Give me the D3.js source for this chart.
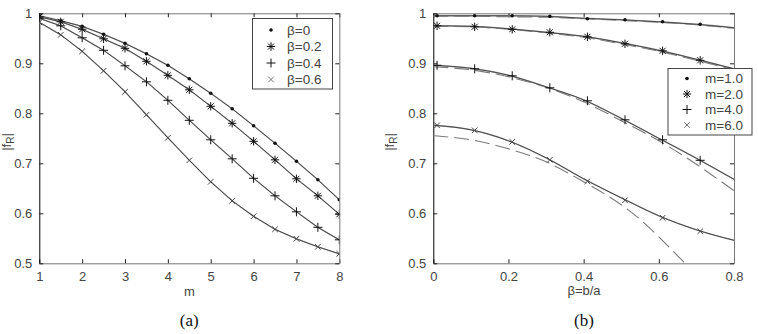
<!DOCTYPE html>
<html>
<head>
<meta charset="utf-8">
<script src="https://cdn.jsdelivr.net/npm/d3@7"></script>
<style>
  body { margin: 0; background: #fff; }
  svg { display: block; }
  .tick text { font-family: "Liberation Sans", Arial, sans-serif; font-size: 13px; fill: #444; }
  .lbl { font-family: "Liberation Sans", Arial, sans-serif; font-size: 13px; fill: #444; }
  .cap { font-family: "Liberation Serif", "Times New Roman", serif; font-size: 17px; fill: #111; }
</style>
</head>
<body>
<script>
// ---- panel (a): |f_R| vs m ----
const mVals = [1, 1.5, 2, 2.5, 3, 3.5, 4, 4.5, 5, 5.5, 6, 6.5, 7, 7.5, 8];
const frBeta0 = [0.995, 0.985, 0.974, 0.958, 0.940, 0.919, 0.896, 0.869, 0.840, 0.809, 0.775, 0.740, 0.704, 0.667, 0.627];
const frBeta02 = [0.993, 0.983, 0.968, 0.949, 0.930, 0.904, 0.876, 0.847, 0.814, 0.780, 0.744, 0.707, 0.669, 0.635, 0.598];
const frBeta04 = [0.990, 0.975, 0.951, 0.926, 0.895, 0.863, 0.826, 0.786, 0.747, 0.709, 0.670, 0.635, 0.603, 0.572, 0.547];
const frBeta06 = [0.982, 0.957, 0.924, 0.885, 0.843, 0.797, 0.751, 0.706, 0.663, 0.625, 0.594, 0.568, 0.549, 0.533, 0.519];
const legendA = ["β=0", "β=0.2", "β=0.4", "β=0.6"];

// ---- panel (b): |f_R| vs beta ----
const betaMarks = [0.01, 0.11, 0.21, 0.31, 0.41, 0.51, 0.61, 0.71];
const betaLine = [0, 0.1, 0.2, 0.3, 0.4, 0.5, 0.6, 0.7, 0.8];
const markM1 = [0.995, 0.995, 0.995, 0.994, 0.989, 0.987, 0.983, 0.978];
const markM2 = [0.975, 0.973, 0.968, 0.962, 0.953, 0.939, 0.925, 0.906];
const markM4 = [0.896, 0.889, 0.875, 0.851, 0.825, 0.787, 0.747, 0.706];
const markM6 = [0.776, 0.766, 0.743, 0.707, 0.664, 0.626, 0.591, 0.564];
const lineM1 = [0.995, 0.995, 0.995, 0.994, 0.990, 0.987, 0.983, 0.978, 0.971];
const lineM2 = [0.975, 0.974, 0.969, 0.962, 0.954, 0.941, 0.926, 0.908, 0.889];
const lineM4 = [0.896, 0.890, 0.876, 0.853, 0.827, 0.790, 0.750, 0.710, 0.668];
const lineM6 = [0.776, 0.767, 0.745, 0.711, 0.669, 0.631, 0.595, 0.567, 0.546];
const dashM1 = [0.994, 0.994, 0.993, 0.992, 0.989, 0.986, 0.982, 0.977, 0.970];
const dashM2 = [0.974, 0.973, 0.968, 0.961, 0.952, 0.939, 0.924, 0.906, 0.887];
const dashM4 = [0.893, 0.887, 0.873, 0.852, 0.823, 0.785, 0.745, 0.698, 0.645];
const betaDashM6 = [0, 0.1, 0.2, 0.3, 0.4, 0.5, 0.55, 0.6, 0.65, 0.7];
const dashM6 = [0.755, 0.747, 0.729, 0.703, 0.663, 0.617, 0.588, 0.553, 0.515, 0.478];
const legendB = ["m=1.0", "m=2.0", "m=4.0", "m=6.0"];

const yTicks = [0.5, 0.6, 0.7, 0.8, 0.9, 1];
const markerTypes = ["dot", "star", "plus", "cross"];

const svg = d3.select("body").append("svg").attr("width", 758).attr("height", 334);

const yTop = 13.3, yBottom = 263.3;
const y = d3.scaleLinear().domain([0.5, 1]).range([yBottom, yTop]);

function marker(g, type, cx, cy, color) {
  const s = g.append("g").attr("transform", `translate(${cx},${cy})`)
    .attr("stroke", color).attr("stroke-width", 1).attr("fill", "none");
  if (type === "dot") {
    s.append("circle").attr("r", 1.8).attr("fill", color).attr("stroke", "none");
  } else if (type === "plus") {
    s.append("path").attr("d", "M-4.5,0H4.5M0,-4.5V4.5");
  } else if (type === "cross") {
    s.append("path").attr("d", "M-2.8,-2.8L2.8,2.8M-2.8,2.8L2.8,-2.8");
  } else {
    s.append("path").attr("d", "M-4.2,0H4.2M0,-4.2V4.2M-3,-3L3,3M-3,3L3,-3");
  }
}

function panel(xDom, xr, xTicks, xFmt) {
  const x = d3.scaleLinear().domain(xDom).range(xr);
  const g = svg.append("g");
  const clipId = "c" + Math.round(xr[0]);
  svg.append("clipPath").attr("id", clipId).append("rect")
    .attr("x", xr[0]).attr("y", yTop).attr("width", xr[1] - xr[0]).attr("height", yBottom - yTop);

  // box + inward ticks on four sides
  g.append("g").attr("transform", `translate(0,${yBottom})`)
    .call(d3.axisBottom(x).tickValues(xTicks).tickFormat(xFmt).tickSizeInner(-4).tickSizeOuter(0).tickPadding(8));
  g.append("g").attr("transform", `translate(0,${yTop})`)
    .call(d3.axisTop(x).tickValues(xTicks).tickFormat("").tickSizeInner(-4).tickSizeOuter(0));
  const left = g.append("g").attr("transform", `translate(${xr[0]},0)`)
    .call(d3.axisLeft(y).tickValues(yTicks).tickFormat(d3.format("")).tickSizeInner(-4).tickSizeOuter(0).tickPadding(7));
  g.append("g").attr("transform", `translate(${xr[1]},0)`)
    .call(d3.axisRight(y).tickValues(yTicks).tickFormat("").tickSizeInner(-4).tickSizeOuter(0));
  g.selectAll(".domain").attr("stroke", "#777");
  left.select(".domain").attr("stroke", "#000");
  g.selectAll(".tick line").attr("stroke", "#222");
  g.selectAll(".tick text").attr("fill", "#444");

  const plot = svg.append("g").attr("clip-path", `url(#${clipId})`);
  return { x, plot };
}

function drawLine(plot, x, xs, ys, opts) {
  const pts = xs.map((v, i) => [v, ys[i]]);
  const line = d3.line().x(d => x(d[0])).y(d => y(d[1])).curve(opts.curve || d3.curveLinear);
  if (opts.dash) {
    plot.append("path").datum(pts).attr("d", line).attr("fill", "none")
      .attr("stroke", "#7a7a7a").attr("stroke-width", 1.1).attr("stroke-dasharray", "15,6");
  } else {
    plot.append("path").datum(pts).attr("d", line).attr("fill", "none")
      .attr("stroke", "#a0a0a0").attr("stroke-width", 1.4);
    plot.append("path").datum(pts).attr("d", line).attr("fill", "none")
      .attr("stroke", "#222").attr("stroke-width", 0.7);
  }
}

function legend(names, x0, y0, w, h, rowY, mx, tx) {
  const lg = svg.append("g");
  lg.append("rect").attr("x", x0).attr("y", y0).attr("width", w).attr("height", h)
    .attr("fill", "#fff").attr("stroke", "#444").attr("stroke-width", 1);
  names.forEach((n, i) => {
    const yy = rowY[i];
    marker(lg, markerTypes[i], mx, yy, i === 3 ? "#777" : "#111");
    lg.append("text").attr("class", "lbl").attr("x", tx).attr("y", yy)
      .attr("dy", "0.36em").style("font-size", "13.5px").text(n);
  });
}

// ---- draw (a) ----
const A = panel([1, 8], [39.3, 339.3], d3.range(1, 9), d3.format("d"));
[frBeta0, frBeta02, frBeta04, frBeta06].forEach((s, k) => {
  drawLine(A.plot, A.x, mVals, s, {});
  s.forEach((v, i) => marker(A.plot, markerTypes[k], A.x(mVals[i]), y(v), k === 3 ? "#444" : "#111"));
});
legend(legendA, 252.5, 18.5, 80, 70.5, [30, 46.5, 63, 79.5], 271, 287);

svg.append("text").attr("class", "lbl").attr("x", 189.3).attr("y", 296).attr("text-anchor", "middle").text("m");
svg.append("text").attr("class", "cap").attr("x", 189.3).attr("y", 326).attr("text-anchor", "middle").text("(a)");
svg.append("text").attr("class", "lbl")
  .attr("transform", "translate(11,142) rotate(-90)").attr("text-anchor", "middle")
  .html('|f<tspan dy="3" font-size="10">R</tspan><tspan dy="-3">|</tspan>');

// ---- draw (b) ----
const B = panel([0, 0.8], [433.3, 734], [0, 0.2, 0.4, 0.6, 0.8], d3.format(""));
drawLine(B.plot, B.x, betaLine, dashM1, { dash: true, curve: d3.curveMonotoneX });
drawLine(B.plot, B.x, betaLine, dashM2, { dash: true, curve: d3.curveMonotoneX });
drawLine(B.plot, B.x, betaLine, dashM4, { dash: true, curve: d3.curveMonotoneX });
drawLine(B.plot, B.x, betaDashM6, dashM6, { dash: true, curve: d3.curveMonotoneX });
[lineM1, lineM2, lineM4, lineM6].forEach(s => drawLine(B.plot, B.x, betaLine, s, { curve: d3.curveMonotoneX }));
[markM1, markM2, markM4, markM6].forEach((s, k) => {
  s.forEach((v, i) => marker(B.plot, markerTypes[k], B.x(betaMarks[i]), y(v), k === 3 ? "#444" : "#111"));
});
legend(legendB, 668, 68.5, 84, 66.5, [78.5, 94, 109.5, 125], 687, 705);

svg.append("text").attr("class", "lbl").attr("x", 584).attr("y", 295).attr("text-anchor", "middle").text("β=b/a");
svg.append("text").attr("class", "cap").attr("x", 584).attr("y", 326).attr("text-anchor", "middle").text("(b)");
svg.append("text").attr("class", "lbl")
  .attr("transform", "translate(394,142) rotate(-90)").attr("text-anchor", "middle")
  .html('|f<tspan dy="3" font-size="10">R</tspan><tspan dy="-3">|</tspan>');
</script>
</body>
</html>
